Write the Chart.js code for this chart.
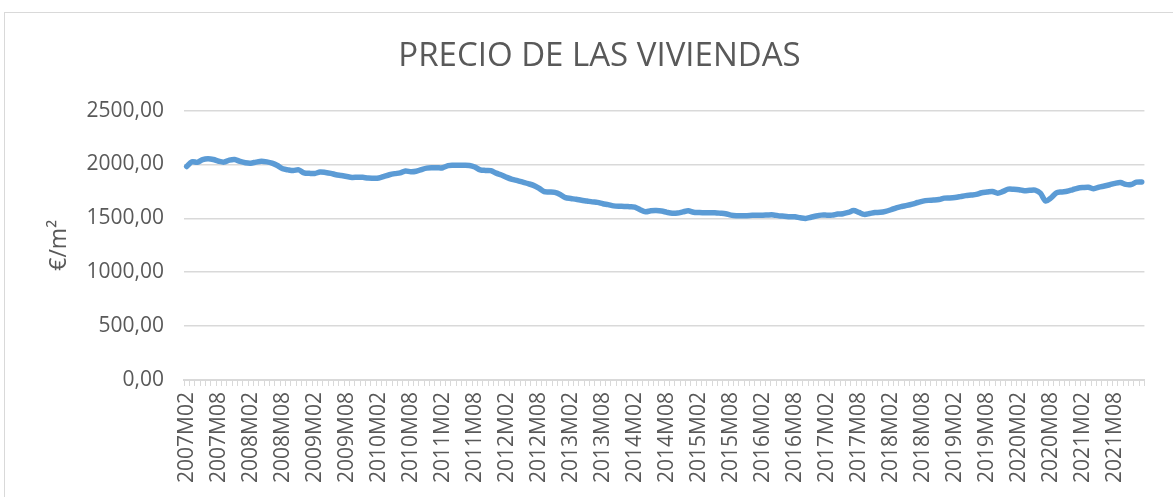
<!DOCTYPE html>
<html>
<head>
<meta charset="utf-8">
<script src="https://cdn.jsdelivr.net/npm/chart.js@4.4.1/dist/chart.umd.min.js"></script>
<style>
  html, body { margin: 0; padding: 0; background: #fff; overflow: hidden; }
  #frame { position: absolute; left: 4px; top: 12px; width: 1200px; height: 520px; border: 1px solid #d9d9d9; box-sizing: border-box; }
  #wrap { position: absolute; left: 0; top: 0; width: 1173px; height: 497px; }
</style>
</head>
<body>
<div id="frame"></div>
<div id="wrap"><canvas id="priceChart" width="1173" height="497"></canvas></div>
<script>
// monthly series, 2007M02 .. 2022M01
const startYear = 2007;
const startMonth = 2;
const yTicks = [0, 500, 1000, 1500, 2000, 2500];
const prices = [
  1981, 2025, 2020, 2045, 2053, 2046, 2030, 2022, 2040, 2046, 2028, 2016,
  2012, 2022, 2030, 2024, 2012, 1990, 1960, 1950, 1944, 1950, 1922, 1918,
  1917, 1930, 1926, 1918, 1905, 1897, 1888, 1880, 1882, 1881, 1874, 1873,
  1875, 1890, 1905, 1915, 1922, 1940, 1933, 1937, 1953, 1966, 1969, 1969,
  1970, 1990, 1993, 1994, 1993, 1990, 1976, 1950, 1945, 1943, 1920, 1903,
  1880, 1862, 1850, 1836, 1822, 1806, 1780, 1748, 1745, 1741, 1722, 1692,
  1684, 1677, 1668, 1661, 1653, 1648, 1636, 1627, 1616, 1612, 1611, 1608,
  1605, 1580, 1561, 1570, 1572, 1568, 1556, 1547, 1549, 1560, 1570, 1557,
  1554, 1552, 1553, 1552, 1548, 1543, 1530, 1524, 1524, 1525, 1528, 1530,
  1529, 1532, 1532, 1523, 1520, 1516, 1514, 1505, 1499, 1510, 1522, 1530,
  1530, 1530, 1540, 1543, 1555, 1572, 1555, 1537, 1545, 1554, 1556, 1565,
  1580, 1598, 1610, 1620, 1632, 1647, 1660, 1667, 1670, 1675, 1688, 1690,
  1694, 1702, 1711, 1716, 1722, 1738, 1744, 1750, 1734, 1750, 1771, 1770,
  1766, 1756, 1760, 1762, 1734, 1661, 1690, 1737, 1745, 1751, 1765, 1780,
  1786, 1789, 1775, 1790, 1800, 1812, 1825, 1832, 1815, 1814, 1836, 1838
];

const months = [];
for (let i = 0; i < prices.length; i++) {
  const m = startMonth - 1 + i;
  const y = startYear + Math.floor(m / 12);
  const mm = String(m % 12 + 1).padStart(2, "0");
  months.push(y + "M" + mm);
}

const grey = "#d9d9d9";
const text = "#595959";

new Chart(document.getElementById("priceChart"), {
  type: "line",
  data: {
    labels: months,
    datasets: [{
      label: "Precio",
      data: prices,
      borderColor: "#5b9bd5",
      borderWidth: 5.5,
      borderCapStyle: "round",
      borderJoinStyle: "round",
      pointRadius: 0,
      tension: 0.3,
      fill: false
    }]
  },
  options: {
    responsive: false,
    animation: false,
    layout: { padding: { left: 46, right: 20, top: 0, bottom: 0 } },
    plugins: {
      legend: { display: false },
      tooltip: { enabled: false },
      title: {
        display: true,
        text: "PRECIO DE LAS VIVIENDAS",
        color: text,
        font: { family: "Open Sans", size: 33, weight: "normal" },
        padding: { top: 37, bottom: 34 }
      }
    },
    scales: {
      x: {
        offset: true,
        grid: { display: true, drawOnChartArea: false, drawTicks: true, tickLength: 6, color: grey, offset: true },
        border: { display: true, color: grey, width: 2 },
        ticks: {
          autoSkip: false,
          minRotation: 90,
          maxRotation: 90,
          padding: 6,
          color: text,
          font: { family: "Open Sans", size: 21 },
          callback: (v, i) => (i % 6 === 0 ? months[i] : "")
        },
        afterFit: s => { s.height = 117; }
      },
      y: {
        min: 0,
        max: 2500,
        afterBuildTicks: s => { s.ticks = yTicks.map(v => ({ value: v })); },
        grid: { color: grey, lineWidth: 1.5, drawTicks: false },
        border: { display: false },
        ticks: {
          padding: 20,
          color: text,
          font: { family: "Open Sans", size: 21 },
          callback: v => v.toFixed(2).replace(".", ",")
        },
        title: {
          display: true,
          text: "€/m²",
          color: text,
          font: { family: "Open Sans", size: 23 },
          padding: { top: 0, bottom: 0 }
        },
        afterFit: s => { s.width = 138; }
      }
    }
  }
});
</script>
</body>
</html>
